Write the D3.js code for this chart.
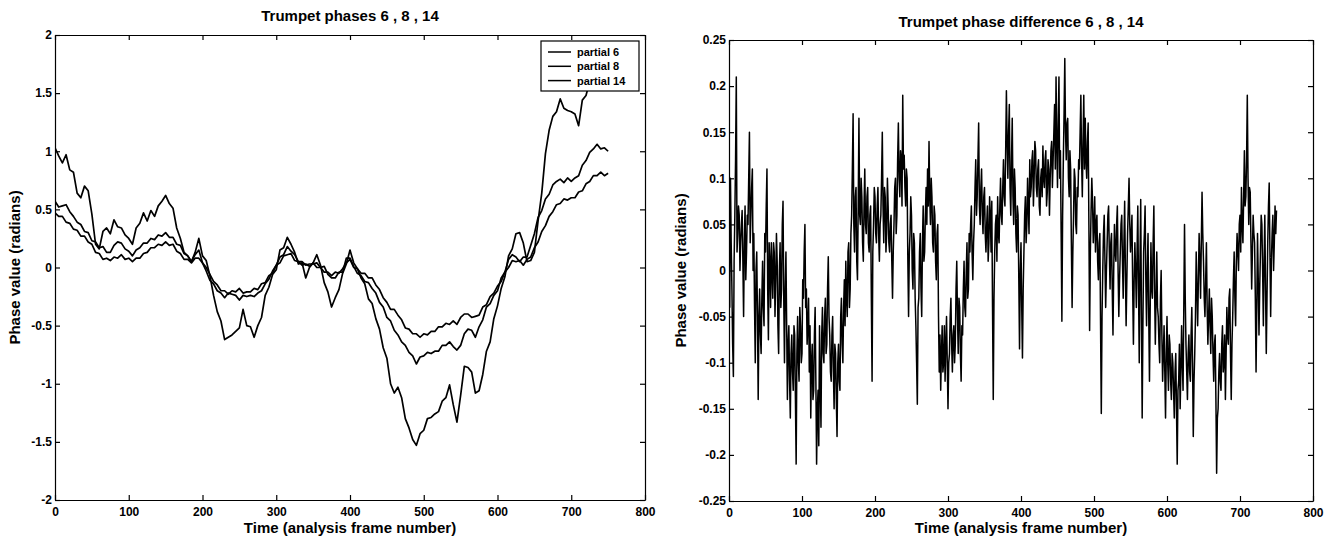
<!DOCTYPE html>
<html>
<head>
<meta charset="utf-8">
<script src="https://cdn.jsdelivr.net/npm/d3@7"></script>
<style>
  body { margin: 0; background: #fff; }
  text { font-family: "Liberation Sans", Arial, Helvetica, sans-serif; font-weight: bold; fill: #000; }
</style>
</head>
<body>
<svg id="fig" width="1333" height="542"></svg>
<script>
// Unwrapped phase of three trumpet partials, one value every 5 analysis frames (frames 0..750)
const phaseStep = 5;
const partial14 = [
  1.03, 0.96, 0.90, 0.97, 0.84, 0.82, 0.64, 0.60, 0.70, 0.66,
  0.46, 0.20, 0.16, 0.31, 0.34, 0.29, 0.41, 0.35, 0.34, 0.28,
  0.25, 0.20, 0.34, 0.38, 0.47, 0.40, 0.49, 0.44, 0.53, 0.57,
  0.62, 0.55, 0.51, 0.34, 0.25, 0.13, 0.10, 0.05, 0.13, 0.25,
  0.10, 0.06, -0.07, -0.24, -0.38, -0.46, -0.62, -0.60, -0.58, -0.55,
  -0.52, -0.36, -0.50, -0.51, -0.60, -0.50, -0.43, -0.24, -0.17, -0.06,
  -0.02, 0.15, 0.17, 0.26, 0.20, 0.13, 0.03, 0.04, -0.09, 0.00,
  0.04, 0.11, 0.02, -0.13, -0.21, -0.34, -0.26, -0.19, -0.05, 0.03,
  0.15, 0.04, -0.01, -0.09, -0.14, -0.27, -0.31, -0.44, -0.53, -0.69,
  -0.78, -1.00, -1.08, -1.03, -1.12, -1.30, -1.38, -1.48, -1.53, -1.43,
  -1.40, -1.30, -1.29, -1.26, -1.24, -1.15, -1.12, -1.01, -1.18, -1.33,
  -1.10, -0.85, -0.86, -0.90, -1.08, -1.06, -0.92, -0.72, -0.64, -0.44,
  -0.33, -0.18, -0.08, 0.10, 0.16, 0.29, 0.30, 0.21, 0.05, 0.06,
  0.13, 0.40, 0.64, 0.98, 1.18, 1.30, 1.34, 1.45, 1.37, 1.35,
  1.34, 1.32, 1.22, 1.44, 1.48, 1.60, 1.62, 1.72, 1.73, 1.81,
  1.85
];
const partial8 = [
  0.57, 0.52, 0.53, 0.54, 0.48, 0.44, 0.39, 0.37, 0.31, 0.30,
  0.23, 0.22, 0.17, 0.18, 0.13, 0.13, 0.19, 0.22, 0.21, 0.16,
  0.14, 0.10, 0.15, 0.17, 0.21, 0.21, 0.25, 0.24, 0.28, 0.27,
  0.30, 0.26, 0.26, 0.20, 0.19, 0.12, 0.10, 0.05, 0.11, 0.15,
  0.04, -0.03, -0.11, -0.14, -0.20, -0.22, -0.26, -0.22, -0.23, -0.24,
  -0.28, -0.24, -0.25, -0.24, -0.25, -0.22, -0.20, -0.14, -0.10, -0.03,
  0.02, 0.09, 0.11, 0.18, 0.14, 0.11, 0.05, 0.05, 0.02, 0.03,
  0.03, 0.04, 0.00, 0.01, -0.06, -0.09, -0.09, -0.04, -0.04, 0.08,
  0.08, 0.01, -0.05, -0.07, -0.12, -0.13, -0.18, -0.22, -0.30, -0.34,
  -0.43, -0.46, -0.54, -0.58, -0.64, -0.67, -0.73, -0.76, -0.83, -0.77,
  -0.76, -0.73, -0.74, -0.72, -0.72, -0.67, -0.67, -0.64, -0.68, -0.71,
  -0.67, -0.57, -0.53, -0.54, -0.60, -0.51, -0.45, -0.34, -0.31, -0.24,
  -0.20, -0.09, -0.04, 0.07, 0.11, 0.09, 0.05, 0.09, 0.09, 0.19,
  0.29, 0.43, 0.49, 0.59, 0.63, 0.71, 0.74, 0.76, 0.73, 0.77,
  0.74, 0.77, 0.79, 0.88, 0.92, 0.99, 1.02, 1.06, 1.02, 1.03,
  1.00
];
const partial6 = [
  0.47, 0.44, 0.44, 0.39, 0.38, 0.33, 0.32, 0.27, 0.27, 0.22,
  0.20, 0.13, 0.12, 0.07, 0.08, 0.06, 0.09, 0.08, 0.11, 0.07,
  0.08, 0.05, 0.08, 0.08, 0.12, 0.13, 0.17, 0.17, 0.20, 0.19,
  0.22, 0.19, 0.20, 0.14, 0.12, 0.07, 0.07, 0.04, 0.08, 0.08,
  0.04, 0.00, -0.06, -0.12, -0.15, -0.20, -0.20, -0.23, -0.20, -0.21,
  -0.18, -0.22, -0.21, -0.21, -0.18, -0.19, -0.14, -0.13, -0.07, -0.05,
  0.02, 0.04, 0.10, 0.11, 0.12, 0.06, 0.05, 0.02, 0.03, 0.01,
  0.04, 0.00, 0.00, -0.04, -0.04, -0.07, -0.04, -0.05, -0.01, 0.04,
  0.07, 0.00, -0.01, -0.05, -0.05, -0.09, -0.09, -0.15, -0.19, -0.26,
  -0.30, -0.36, -0.36, -0.41, -0.45, -0.52, -0.53, -0.57, -0.57, -0.60,
  -0.57, -0.58, -0.55, -0.55, -0.51, -0.51, -0.48, -0.49, -0.46, -0.49,
  -0.43, -0.40, -0.40, -0.43, -0.42, -0.41, -0.34, -0.32, -0.25, -0.22,
  -0.16, -0.12, -0.04, 0.00, 0.06, 0.05, 0.06, 0.02, 0.07, 0.09,
  0.17, 0.22, 0.31, 0.36, 0.44, 0.48, 0.54, 0.55, 0.59, 0.58,
  0.60, 0.60, 0.65, 0.66, 0.72, 0.74, 0.79, 0.79, 0.82, 0.79,
  0.81
];

// Phase difference 6, 8, 14, one value per analysis frame (frames 0..750), 20 frames per row
const diffStep = 1;
const phaseDiff = [
  0.00, -0.04, 0.10, 0.03, -0.02, -0.08, -0.115, 0.01, 0.06, 0.12, 0.21, 0.02, 0.04, 0.07, 0.06, 0.00, 0.03, 0.05, 0.065, 0.01,
  -0.05, 0.03, 0.07, -0.01, 0.02, 0.06, 0.05, 0.10, 0.15, 0.03, 0.06, 0.09, 0.11, 0.00, 0.04, -0.04, -0.10, 0.00, 0.02, -0.05,
  -0.14, -0.05, -0.02, -0.07, -0.09, -0.03, 0.01, -0.04, -0.06, 0.04, 0.02, 0.07, 0.11, -0.02, -0.075, 0.03, 0.01, -0.04, 0.03, 0.00,
  -0.03, 0.03, 0.02, -0.05, -0.01, 0.04, 0.01, -0.06, -0.09, 0.00, 0.03, -0.04, -0.02, 0.05, 0.075, -0.03, -0.10, -0.02, 0.02, -0.06,
  -0.14, -0.08, -0.06, -0.12, -0.16, -0.09, -0.07, -0.11, -0.13, -0.06, -0.07, -0.14, -0.21, -0.09, -0.05, -0.10, -0.12, -0.04, -0.06, -0.10,
  -0.09, -0.01, -0.03, 0.02, 0.05, -0.04, -0.02, -0.08, -0.06, -0.03, -0.11, -0.06, -0.16, -0.10, -0.08, -0.14, -0.13, -0.07, -0.04, -0.12,
  -0.21, -0.15, -0.13, -0.19, -0.06, -0.12, -0.17, -0.07, -0.04, -0.09, -0.10, -0.05, -0.03, -0.09, -0.08, -0.02, 0.015, -0.05, -0.07, -0.11,
  -0.12, -0.07, -0.05, -0.11, -0.15, -0.08, -0.09, -0.14, -0.18, -0.10, -0.08, -0.12, -0.13, -0.05, -0.03, -0.08, -0.10, -0.04, -0.01, -0.06,
  0.01, -0.03, -0.05, 0.02, 0.03, -0.04, -0.02, 0.04, 0.06, 0.11, 0.17, 0.05, 0.02, 0.08, 0.09, 0.01, -0.01, 0.07, 0.165, 0.06,
  0.05, 0.10, 0.08, 0.03, 0.01, 0.07, 0.11, 0.05, 0.04, 0.08, 0.09, 0.03, 0.02, 0.06, 0.07, -0.03, -0.12, 0.02, 0.05, 0.09,
  0.08, 0.04, 0.03, 0.07, 0.09, 0.04, 0.01, 0.05, 0.06, 0.10, 0.15, 0.07, 0.03, 0.09, 0.08, 0.02, 0.04, 0.10, 0.07, 0.03,
  0.02, 0.05, 0.06, 0.01, -0.03, 0.02, 0.05, 0.09, 0.10, 0.04, 0.06, 0.12, 0.16, 0.10, 0.08, 0.13, 0.12, 0.07, 0.19, 0.11,
  0.125, 0.09, 0.07, 0.11, 0.10, 0.01, -0.05, 0.02, 0.04, 0.08, 0.06, 0.00, -0.02, 0.04, 0.03, -0.03, -0.06, -0.10, -0.145, -0.04,
  -0.03, 0.02, 0.04, -0.02, -0.05, 0.03, 0.07, 0.01, 0.02, 0.06, 0.09, 0.05, 0.11, 0.07, 0.14, 0.08, 0.05, 0.10, 0.08, 0.03,
  0.02, 0.07, 0.06, 0.01, -0.01, 0.04, 0.05, -0.05, -0.11, -0.07, -0.13, -0.09, -0.06, -0.11, -0.10, -0.06, -0.12, -0.08, -0.05, -0.10,
  -0.15, -0.10, -0.09, -0.05, -0.03, -0.08, -0.11, -0.07, -0.06, -0.10, -0.08, -0.02, 0.01, -0.05, -0.09, -0.03, -0.04, -0.09, -0.12, -0.06,
  -0.07, -0.02, 0.01, -0.04, -0.05, 0.00, 0.03, -0.03, -0.02, 0.04, 0.02, 0.05, 0.07, 0.02, -0.01, 0.03, 0.05, 0.09, 0.12, 0.06,
  0.08, 0.12, 0.16, 0.07, 0.05, 0.09, 0.11, 0.06, 0.04, 0.08, 0.09, 0.04, 0.02, 0.05, 0.07, 0.01, 0.03, 0.08, 0.06, 0.02,
  0.075, -0.04, -0.14, -0.03, 0.02, 0.05, 0.06, 0.01, 0.08, 0.04, 0.03, 0.07, 0.10, 0.06, 0.05, 0.09, 0.12, 0.08, 0.07, 0.13,
  0.195, 0.14, 0.10, 0.15, 0.18, 0.09, 0.06, 0.12, 0.165, 0.08, 0.05, 0.11, 0.09, 0.04, 0.02, 0.07, 0.06, -0.01, -0.085, 0.00,
  0.03, -0.04, -0.095, -0.02, 0.02, 0.06, 0.08, 0.03, 0.05, 0.10, 0.07, 0.04, 0.12, 0.08, 0.09, 0.12, 0.13, 0.07, 0.10, 0.14,
  0.13, 0.09, 0.08, 0.11, 0.12, 0.07, 0.06, 0.10, 0.11, 0.08, 0.135, 0.10, 0.09, 0.12, 0.13, 0.07, 0.085, 0.12, 0.11, 0.06,
  0.10, 0.13, 0.14, 0.09, 0.12, 0.15, 0.18, 0.11, 0.21, 0.14, 0.09, 0.16, 0.21, 0.10, 0.13, 0.04, -0.055, 0.06, 0.12, 0.17,
  0.23, 0.15, 0.12, 0.16, 0.165, 0.10, 0.08, 0.13, 0.11, 0.03, -0.04, 0.02, 0.06, 0.11, 0.10, 0.05, 0.04, 0.09, 0.08, 0.12,
  0.11, 0.15, 0.19, 0.12, 0.08, 0.14, 0.19, 0.11, 0.165, 0.12, 0.10, 0.14, 0.16, 0.05, -0.065, 0.02, 0.065, 0.10, 0.075, 0.03,
  0.05, 0.08, 0.02, 0.05, 0.06, 0.01, -0.01, 0.03, 0.04, -0.06, -0.155, -0.05, 0.00, 0.04, 0.06, 0.01, -0.04, 0.00, 0.03, 0.06,
  0.07, 0.02, -0.02, 0.03, 0.04, -0.02, -0.07, 0.00, 0.05, 0.02, 0.01, 0.05, 0.07, 0.00, -0.05, -0.01, 0.02, 0.05, 0.06, 0.01,
  -0.03, 0.03, 0.075, 0.00, -0.06, -0.01, 0.04, 0.07, 0.10, 0.05, 0.02, 0.04, 0.06, -0.02, -0.08, -0.01, 0.03, 0.00, -0.04, 0.02,
  0.07, -0.02, -0.10, 0.01, 0.077, -0.05, -0.16, -0.06, 0.02, 0.04, 0.07, -0.01, -0.06, 0.00, 0.04, -0.05, -0.12, -0.04, 0.03, -0.02,
  -0.03, 0.03, 0.07, -0.02, -0.08, -0.03, 0.02, -0.04, -0.05, -0.08, -0.10, -0.03, 0.00, -0.07, -0.12, -0.09, -0.06, -0.11, -0.16, -0.09,
  -0.05, -0.10, -0.13, -0.07, -0.08, -0.12, -0.14, -0.09, -0.10, -0.13, -0.16, -0.11, -0.09, -0.15, -0.21, -0.13, -0.12, -0.08, -0.15, -0.11,
  -0.06, -0.10, -0.13, -0.04, 0.05, -0.03, -0.08, -0.11, -0.14, -0.09, -0.07, -0.11, -0.12, -0.07, -0.04, -0.10, -0.18, -0.12, -0.09, -0.05,
  0.02, -0.02, -0.06, -0.01, 0.04, 0.01, -0.03, 0.03, 0.085, 0.04, 0.01, -0.03, -0.05, -0.01, 0.03, -0.04, -0.08, -0.05, -0.02, -0.06,
  -0.09, -0.03, -0.05, -0.09, -0.12, -0.08, -0.07, -0.14, -0.22, -0.16, -0.15, -0.11, -0.09, -0.12, -0.13, -0.08, -0.06, -0.11, -0.10, -0.07,
  -0.14, -0.09, -0.04, -0.07, -0.08, -0.03, -0.02, -0.09, -0.14, -0.08, -0.05, -0.01, 0.02, -0.03, -0.06, 0.01, 0.04, 0.02, 0.00, 0.05,
  0.06, 0.02, 0.09, 0.05, 0.03, 0.08, 0.13, 0.07, 0.08, 0.12, 0.19, 0.10, 0.05, 0.09, 0.085, 0.03, -0.02, 0.02, 0.06, 0.04,
  0.03, -0.03, -0.11, -0.04, 0.04, -0.01, -0.07, -0.02, 0.02, 0.06, 0.05, 0.00, -0.06, 0.01, 0.06, -0.02, -0.09, -0.03, 0.03, 0.07,
  0.095, 0.02, -0.05, 0.01, 0.04, 0.06, 0.00, 0.03, 0.07, 0.04, 0.065
];

// Axis ticks and their printed labels
const xTicks = [0, 100, 200, 300, 400, 500, 600, 700, 800];
const phaseTicks = [-2, -1.5, -1, -0.5, 0, 0.5, 1, 1.5, 2];
const phaseTickLabels = ["-2", "-1.5", "-1", "-0.5", "0", "0.5", "1", "1.5", "2"];
const diffTicks = [-0.25, -0.2, -0.15, -0.1, -0.05, 0, 0.05, 0.1, 0.15, 0.2, 0.25];
const diffTickLabels = ["-0.25", "-0.2", "-0.15", "-0.1", "-0.05", "0", "0.05", "0.1", "0.15", "0.2", "0.25"];
const legendNames = ["partial 6", "partial 8", "partial 14"];

const svg = d3.select("#fig");

function drawPanel(cfg) {
  const x = d3.scaleLinear().domain([0, 800]).range([cfg.left, cfg.right]);
  const y = d3.scaleLinear().domain(cfg.yDomain).range([cfg.bottom, cfg.top]);
  const g = svg.append("g");
  const tick = 5;

  g.append("defs").append("clipPath").attr("id", cfg.id + "-clip")
    .append("rect").attr("x", cfg.left).attr("y", cfg.top)
    .attr("width", cfg.right - cfg.left).attr("height", cfg.bottom - cfg.top);

  // data lines
  const plot = g.append("g").attr("clip-path", `url(#${cfg.id}-clip)`);
  cfg.series.forEach(s => {
    const line = d3.line().x((d, i) => x(i * s.step)).y(d => y(d));
    plot.append("path").datum(s.values)
      .attr("d", line).attr("fill", "none")
      .attr("stroke", "#000").attr("stroke-width", s.width)
      .attr("stroke-linejoin", "round");
  });

  // box axes with inward ticks on all four sides
  const styleAxis = sel => {
    sel.selectAll("path.domain").attr("stroke", "#000").attr("stroke-width", 1.2);
    sel.selectAll(".tick line").attr("stroke", "#000").attr("stroke-width", 1.2);
    sel.selectAll(".tick text").attr("fill", "#000").style("font-size", "12px")
      .style("font-family", '"Liberation Sans", Arial, sans-serif').style("font-weight", "bold");
  };
  g.append("g").attr("transform", `translate(0,${cfg.bottom})`)
    .call(d3.axisBottom(x).tickValues(xTicks).tickSizeInner(-tick).tickSizeOuter(0).tickPadding(7)
      .tickFormat(d => String(d)))
    .call(styleAxis);
  g.append("g").attr("transform", `translate(0,${cfg.top})`)
    .call(d3.axisTop(x).tickValues(xTicks).tickSizeInner(-tick).tickSizeOuter(0).tickFormat(""))
    .call(styleAxis);
  g.append("g").attr("transform", `translate(${cfg.left},0)`)
    .call(d3.axisLeft(y).tickValues(cfg.yTicks).tickSizeInner(-tick).tickSizeOuter(0).tickPadding(3)
      .tickFormat((d, i) => cfg.yLabels[i]))
    .call(styleAxis);
  g.append("g").attr("transform", `translate(${cfg.right},0)`)
    .call(d3.axisRight(y).tickValues(cfg.yTicks).tickSizeInner(-tick).tickSizeOuter(0).tickFormat(""))
    .call(styleAxis);

  // title and axis labels
  g.append("text").attr("x", (cfg.left + cfg.right) / 2).attr("y", cfg.titleY)
    .attr("text-anchor", "middle").style("font-size", "15px").text(cfg.title);
  g.append("text").attr("x", (cfg.left + cfg.right) / 2).attr("y", 533)
    .attr("text-anchor", "middle").style("font-size", "15px").text("Time (analysis frame number)");
  g.append("text")
    .attr("transform", `translate(${cfg.ylabelX},${(cfg.top + cfg.bottom) / 2}) rotate(-90)`)
    .attr("text-anchor", "middle").style("font-size", "15px").text("Phase value (radians)");

  return { x, y, g };
}

const left = drawPanel({
  id: "phases", left: 55, right: 645, top: 35, bottom: 500,
  yDomain: [-2, 2], yTicks: phaseTicks, yLabels: phaseTickLabels,
  title: "Trumpet phases 6 , 8 , 14", titleY: 21, ylabelX: 20,
  series: [
    { values: partial6, step: phaseStep, width: 1.7 },
    { values: partial8, step: phaseStep, width: 1.7 },
    { values: partial14, step: phaseStep, width: 1.7 }
  ]
});

drawPanel({
  id: "diff", left: 729, right: 1313, top: 40, bottom: 501,
  yDomain: [-0.25, 0.25], yTicks: diffTicks, yLabels: diffTickLabels,
  title: "Trumpet phase difference 6 , 8 , 14", titleY: 27, ylabelX: 686,
  series: [{ values: phaseDiff, step: diffStep, width: 1.5 }]
});

// legend box in the upper right of the phase panel
const lg = left.g.append("g").attr("transform", "translate(541,41)");
lg.append("rect").attr("width", 98).attr("height", 50)
  .attr("fill", "#fff").attr("stroke", "#000").attr("stroke-width", 1.2);
legendNames.forEach((name, i) => {
  const yy = 11 + i * 14.3;
  lg.append("line").attr("x1", 7).attr("x2", 30).attr("y1", yy).attr("y2", yy)
    .attr("stroke", "#000").attr("stroke-width", 1.5);
  lg.append("text").attr("x", 36).attr("y", yy + 4).style("font-size", "11px").text(name);
});
</script>
</body>
</html>
